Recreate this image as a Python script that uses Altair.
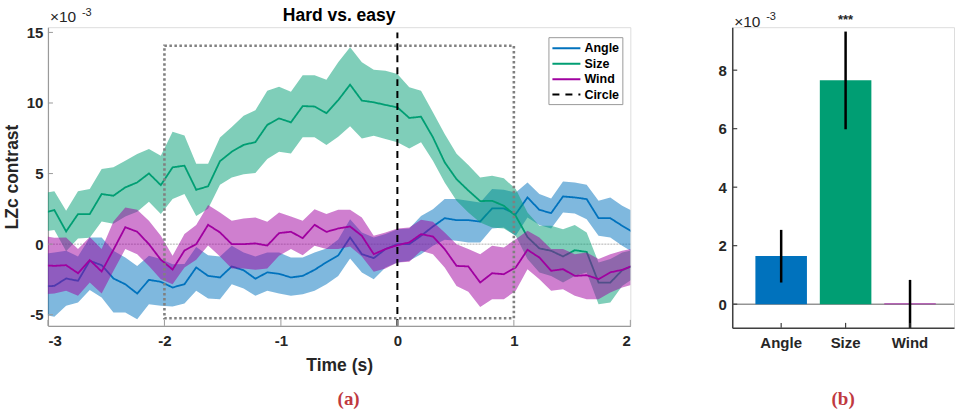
import altair as alt
import pandas as pd

# ---------------- data (values in units of 1e-3) ----------------
time_s = [-3.047, -2.945, -2.844, -2.742, -2.641, -2.539, -2.438, -2.336, -2.234, -2.133,
          -2.031, -1.930, -1.828, -1.727, -1.625, -1.523, -1.422, -1.320, -1.219, -1.117,
          -1.016, -0.914, -0.813, -0.711, -0.609, -0.508, -0.406, -0.305, -0.203, -0.102,
          0.0, 0.102, 0.203, 0.305, 0.406, 0.508, 0.609, 0.711, 0.813, 0.914,
          1.016, 1.117, 1.219, 1.320, 1.422, 1.523, 1.625, 1.727, 1.828, 1.930, 2.031]

angle_mean = [-3.0, -2.96, -2.43, -2.6, -1.18, -1.49, -2.43, -2.84, -3.5, -2.53,
              -2.67, -3.07, -2.84, -1.65, -2.25, -2.36, -1.58, -1.85, -2.45, -2.0,
              -2.1, -2.36, -2.25, -1.82, -1.28, -0.8, 0.47, -0.71, -0.99, -0.35,
              0.0, 0.0, 0.59, 1.25, 1.84, 1.7, 1.7, 1.6, 2.53, 2.53,
              2.13, 3.31, 2.43, 2.2, 3.38, 3.31, 3.19, 1.84, 1.84, 1.3, 0.8]
angle_low = [-4.96, -5.15, -4.37, -4.14, -3.24, -3.78, -4.85, -4.85, -5.32, -4.26,
             -4.37, -4.42, -4.2, -3.3, -3.85, -3.9, -2.84, -3.14, -3.66, -3.31,
             -3.5, -3.66, -3.55, -3.31, -2.84, -2.25, -1.02, -2.0, -2.48, -1.65,
             -1.3, -1.18, -0.71, -0.12, 0.31, 0.24, 0.12, 0.12, 1.1, 1.18,
             0.59, 1.89, 1.35, 1.11, 2.25, 2.17, 1.77, 0.59, 0.47, -0.12, -0.6]
angle_high = [-0.7, -0.6, -0.47, -0.87, 0.47, 0.47, -0.47, -0.95, -1.54, -0.83,
              -1.06, -1.42, -1.4, -0.2, -0.78, -0.87, -0.12, -0.59, -0.87, -0.59,
              -0.6, -0.95, -0.95, -0.59, -0.31, 0.33, 1.77, 0.83, 0.47, 0.71,
              1.06, 1.11, 2.0, 2.48, 3.19, 3.19, 3.07, 2.95, 3.9, 3.85,
              3.66, 4.37, 3.55, 3.24, 4.44, 4.37, 4.2, 3.07, 3.31, 2.72, 2.3]

size_mean = [2.2, 2.41, 0.9, 2.13, 2.13, 3.55, 3.43, 4.02, 4.37, 5.01,
             4.18, 5.44, 5.56, 3.85, 4.1, 5.88, 6.55, 7.03, 7.23, 8.45,
             8.91, 8.63, 9.78, 9.75, 9.28, 10.2, 11.3, 10.17, 10.05, 9.86,
             9.69, 8.94, 9.03, 7.57, 5.8, 4.6, 3.8, 3.05, 3.07, 2.72,
             2.0, 0.5, -0.3, -0.47, -0.87, -0.43, -0.55, -2.72, -2.72, -1.85, -1.5]
size_low = [0.9, 1.0, -0.5, 0.4, 0.45, 1.6, 1.45, 1.95, 2.3, 3.0,
            2.13, 3.19, 3.55, 2.0, 2.5, 4.2, 4.73, 4.96, 5.04, 6.03,
            6.55, 6.43, 7.57, 7.57, 7.02, 7.6, 8.35, 7.49, 7.68, 7.45,
            7.21, 6.78, 7.21, 5.91, 4.37, 3.07, 2.25, 1.54, 1.18, 1.11,
            0.59, -1.06, -2.0, -2.25, -2.72, -2.25, -2.0, -4.26, -4.14, -2.96, -2.4]
size_high = [3.6, 3.74, 2.36, 3.74, 3.9, 5.32, 5.44, 5.91, 6.38, 6.74,
             6.26, 7.97, 7.7, 5.7, 5.7, 7.56, 8.3, 9.1, 9.48, 10.87,
             11.15, 10.8, 11.96, 11.96, 11.65, 12.88, 13.95, 12.88, 12.36, 12.29,
             12.06, 11.11, 10.87, 9.34, 7.8, 6.4, 5.6, 4.73, 4.85, 4.66,
             3.9, 2.25, 1.3, 1.3, 1.06, 1.35, 0.83, -1.3, -1.06, -0.6, -0.4]

wind_mean = [-1.49, -1.54, -1.49, -2.06, -1.13, -1.94, -0.4, 1.2, 0.88, 0.0,
             -1.1, -1.8, -0.45, 0.0, 1.37, 0.83, 0.0, 0.0, 0.05, -0.1,
             0.78, 0.88, 0.42, 1.37, 0.87, 1.11, 1.25, 0.59, -0.71, -0.35,
             -0.07, 0.12, 0.71, 0.54, -0.35, -1.54, -1.58, -2.72, -2.06, -2.13,
             -1.65, -0.4, -0.95, -1.89, -1.77, -2.25, -2.2, -2.48, -2.0, -1.82, -1.49]
wind_low = [-3.55, -3.5, -3.31, -3.66, -2.72, -3.5, -1.9, -0.35, -0.71, -1.54,
            -2.48, -2.84, -1.65, -1.1, -0.1, -0.87, -1.73, -1.73, -1.82, -1.73,
            -0.83, -0.35, -0.78, -0.12, -0.35, -0.35, -0.17, -0.87, -1.96, -1.73,
            -1.3, -1.25, -0.47, -0.71, -1.65, -2.96, -3.38, -4.45, -3.9, -3.9,
            -3.31, -1.77, -2.48, -3.31, -3.19, -3.66, -3.9, -3.9, -3.43, -3.07, -2.84]
wind_high = [0.6, 0.45, 0.47, -0.35, 0.5, -0.35, 1.6, 2.6, 2.43, 1.65,
             0.59, -0.83, 0.71, 1.35, 2.77, 2.25, 1.65, 1.82, 1.89, 1.58,
             2.25, 1.96, 1.65, 2.48, 2.13, 2.43, 2.43, 1.89, 0.59, 0.83,
             1.11, 1.18, 1.73, 1.58, 0.83, 0.0, -0.35, -0.71, -0.12, -0.24,
             0.35, 0.95, 0.47, -0.35, -0.35, -0.71, -0.59, -1.06, -0.71, -0.47, -0.31]

series_names = ["Angle", "Size", "Wind"]
legend_names = ["Angle", "Size", "Wind", "Circle"]
series_colors = ["#0072BD", "#009E73", "#A000A0", "#000000"]

window_box = {"x": [-2.0], "x2": [1.0], "y": [-5.25], "y2": [14.05]}
circle_line = {"t": [0.0], "lo": [-5.79], "hi": [15.0], "series": ["Circle"]}

x_ticks = [-3, -2, -1, 0, 1, 2]
y_ticks = [-5, 0, 5, 10, 15]

bar_categories = ["Angle", "Size", "Wind"]
bar_values = [1.65, 7.66, 0.02]
bar_err_low = [0.74, 5.98, -0.81]
bar_err_high = [2.54, 9.32, 0.83]
bar_sig = ["", "***", ""]
bar_y_ticks = [0, 2, 4, 6, 8]

# ---------------- style ----------------
SANS = "Liberation Sans"
SERIF = "Liberation Serif"
TXT = "#262626"
CAP = "#C0393F"
W1, H1 = 583, 299
W2, H2 = 222, 301

x_scale = alt.Scale(domain=[-3, 2], nice=False, zero=False)
y_scale = alt.Scale(domain=[-5.79, 15.37], nice=False, zero=False)

x_axis = alt.Axis(values=x_ticks, labelExpr="'' + datum.value", ticks=False, grid=False,
                  domainColor="#9a9a9a", domainWidth=1.2, labelFont=SANS, labelFontSize=15,
                  labelFontWeight="bold", labelColor=TXT, labelPadding=8,
                  title="Time (s)", titleFont=SANS, titleFontSize=17.5, titleFontWeight="bold",
                  titleColor=TXT, titlePadding=8)
y_axis = alt.Axis(values=y_ticks, labelExpr="'' + datum.value", ticks=False, grid=False,
                  domainColor="#9a9a9a", domainWidth=1.2, labelFont=SANS, labelFontSize=15,
                  labelFontWeight="bold", labelColor=TXT, labelPadding=5,
                  title="LZc contrast", titleFont=SANS, titleFontSize=17.5, titleFontWeight="bold",
                  titleColor=TXT, titlePadding=5)


def X(f):
    return alt.X(f, type="quantitative", scale=x_scale, axis=x_axis)


def Y(f):
    return alt.Y(f, type="quantitative", scale=y_scale, axis=y_axis)


color_scale = alt.Scale(domain=legend_names, range=series_colors)
fill_scale = alt.Scale(domain=legend_names, range=series_colors)
dash_scale = alt.Scale(domain=legend_names, range=[[1, 0], [1, 0], [1, 0], [7, 5]])
leg = alt.Legend(title=None, orient="none", legendX=501, legendY=10,
                 symbolType="M-2,0H2", symbolSize=196, symbolStrokeWidth=2,
                 symbolOffset=7, labelOffset=10,
                 labelFont=SANS, labelFontSize=12.5, labelFontWeight="bold", labelColor="#000",
                 strokeColor="#9a9a9a", fillColor="white", padding=3, rowPadding=0.5,
                 symbolDash={"expr": "datum.value === 'Circle' ? [7, 6] : [1, 0]"})

layers = []
# zero line
layers.append(alt.Chart(pd.DataFrame({"z": [0.0]})).mark_rule(
    color="#9a9a9a", strokeWidth=0.8, strokeDash=[2, 1]).encode(y=Y("z")))

arrays = {"Angle": (angle_mean, angle_low, angle_high),
          "Size": (size_mean, size_low, size_high),
          "Wind": (wind_mean, wind_low, wind_high)}
for name in series_names:
    m, lo, hi = arrays[name]
    df = pd.DataFrame({"t": time_s, "mean": m, "lo": lo, "hi": hi, "series": name})
    base = alt.Chart(df)
    layers.append(base.mark_area(opacity=0.5, clip=True).encode(
        x=X("t"), y=Y("lo"), y2="hi",
        fill=alt.Fill("series:N", scale=fill_scale, legend=None)))
    layers.append(base.mark_line(strokeWidth=1.8, clip=True).encode(
        x=X("t"), y=Y("mean"),
        color=alt.Color("series:N", scale=color_scale, legend=leg),
        strokeDash=alt.StrokeDash("series:N", scale=dash_scale, legend=None)))

# window box
layers.append(alt.Chart(pd.DataFrame(window_box)).mark_rect(
    filled=False, stroke="#808080", strokeWidth=2.6, strokeDash=[2.5, 2.5]).encode(
    x=X("x"), x2="x2", y=Y("y"), y2="y2"))

# circle onset line
layers.append(alt.Chart(pd.DataFrame(circle_line)).mark_rule(strokeWidth=2).encode(
    x=X("t"), y=Y("lo"), y2="hi",
    color=alt.Color("series:N", scale=color_scale, legend=leg),
    strokeDash=alt.StrokeDash("series:N", scale=dash_scale, legend=None)))

# inward ticks
layers.append(alt.Chart(pd.DataFrame({"v": y_ticks})).mark_rule(color="#9a9a9a").encode(
    y=Y("v"), x=alt.value(0), x2=alt.value(5)))
layers.append(alt.Chart(pd.DataFrame({"v": x_ticks})).mark_rule(color="#9a9a9a").encode(
    x=X("v"), y=alt.value(H1), y2=alt.value(H1 - 6)))

# title, exponent, caption
note = pd.DataFrame({"a": ["\u00d710"], "b": ["-3"], "c": ["(a)"], "t": ["Hard vs. easy"]})
layers.append(alt.Chart(note).mark_text(align="center", baseline="alphabetic", font=SANS,
                                        fontSize=17.5, fontWeight="bold", color="#000").encode(
    text="t:N", x=alt.value(W1 / 2), y=alt.value(-6)))
layers.append(alt.Chart(note).mark_text(align="left", baseline="alphabetic", font=SANS,
                                        fontSize=15.5, color=TXT).encode(
    text="a:N", x=alt.value(2), y=alt.value(-5)))
layers.append(alt.Chart(note).mark_text(align="left", baseline="alphabetic", font=SANS,
                                        fontSize=11, color=TXT).encode(
    text="b:N", x=alt.value(34), y=alt.value(-11)))
layers.append(alt.Chart(note).mark_text(align="center", baseline="middle", font=SERIF,
                                        fontSize=19, fontWeight="bold", color=CAP).encode(
    text="c:N", x=alt.value(301), y=alt.value(H1 + 73)))

left = alt.layer(*layers).properties(width=W1, height=H1)

# ---------------- bar chart ----------------
bdf = pd.DataFrame({"cat": bar_categories, "val": bar_values, "lo": bar_err_low,
                    "hi": bar_err_high, "sig": bar_sig})
by_scale = alt.Scale(domain=[-0.81, 9.47], nice=False, zero=False)
bx = alt.X("cat:N", sort=bar_categories,
           scale=alt.Scale(paddingInner=0.2, paddingOuter=0.321, align=0.56),
           axis=alt.Axis(ticks=False, domainColor="#404040", domainWidth=1.5, labelAngle=0,
                         labelFont=SANS, labelFontSize=15, labelFontWeight="bold",
                         labelColor=TXT, labelPadding=8, title=None))
by_axis = alt.Axis(values=bar_y_ticks, labelExpr="'' + datum.value", ticks=False, grid=False,
                   domainColor="#404040", domainWidth=1.5, labelFont=SANS, labelFontSize=15,
                   labelFontWeight="bold", labelColor=TXT, labelPadding=6, title=None)


def BY(f):
    return alt.Y(f, type="quantitative", scale=by_scale, axis=by_axis)


bbase = alt.Chart(bdf)
blayers = [
    alt.Chart(pd.DataFrame({"z": [0.0]})).mark_rule(color="#606060", strokeWidth=1).encode(y=BY("z")),
    bbase.mark_bar().encode(
        x=bx, y=BY("val"), y2=alt.datum(0),
        color=alt.Color("cat:N", scale=alt.Scale(domain=bar_categories, range=series_colors[:3]),
                        legend=None)),
    bbase.mark_rule(color="#000", strokeWidth=2.5).encode(x=bx, y=BY("lo"), y2="hi"),
    bbase.mark_text(font=SANS, fontSize=13, fontWeight="bold", color=TXT,
                    baseline="alphabetic").encode(x=bx, y=alt.value(-3), text="sig:N"),
    bbase.mark_rule(color="#404040", strokeWidth=1.2).encode(
        x=bx, y=alt.value(H2), y2=alt.value(H2 - 5)),
    alt.Chart(pd.DataFrame({"v": bar_y_ticks})).mark_rule(color="#404040", strokeWidth=1.2).encode(
        y=BY("v"), x=alt.value(0), x2=alt.value(5)),
]
bnote = pd.DataFrame({"a": ["\u00d710"], "b": ["-3"], "c": ["(b)"]})
blayers.append(alt.Chart(bnote).mark_text(align="left", baseline="alphabetic", font=SANS,
                                          fontSize=15.5, color=TXT).encode(
    text="a:N", x=alt.value(2), y=alt.value(0)))
blayers.append(alt.Chart(bnote).mark_text(align="left", baseline="alphabetic", font=SANS,
                                          fontSize=11, color=TXT).encode(
    text="b:N", x=alt.value(34), y=alt.value(-7)))
blayers.append(alt.Chart(bnote).mark_text(align="center", baseline="middle", font=SERIF,
                                          fontSize=19, fontWeight="bold", color=CAP).encode(
    text="c:N", x=alt.value(111), y=alt.value(H2 + 71)))

right = alt.layer(*blayers).properties(width=W2, height=H2)

chart = alt.hconcat(left, right, spacing=86).properties(
    padding={"left": 2, "top": 6, "right": 0, "bottom": 0}
).configure_view(stroke=None).configure(background="white")

chart.save("out.html", embed_options={"renderer": "svg", "actions": False})
